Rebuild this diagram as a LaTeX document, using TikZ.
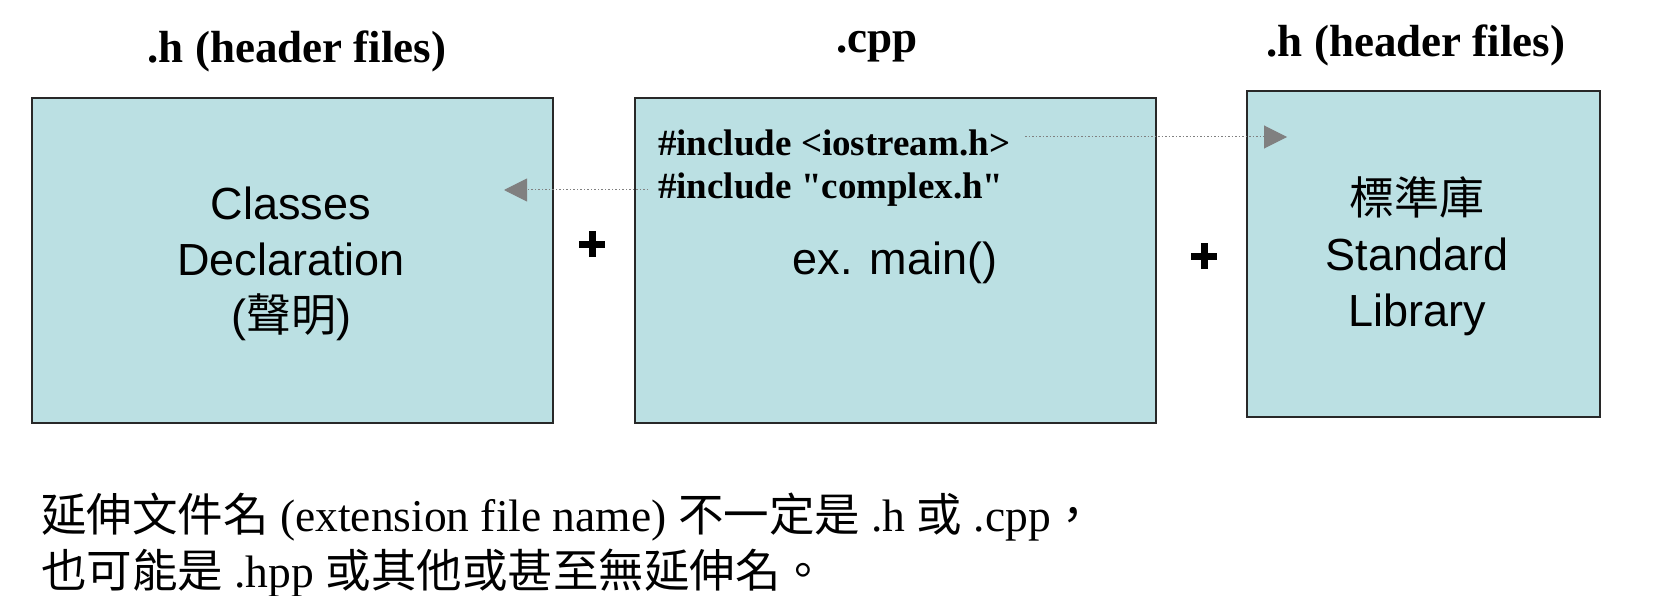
\documentclass[tikz,border=0pt]{standalone}
\usepackage{fontspec}
\setmainfont{Liberation Serif}
\newfontfamily\arialf{Liberation Sans}
\newfontfamily\cjkf{Noto Sans CJK TC}
\usetikzlibrary{arrows.meta}
\definecolor{boxfill}{RGB}{187,224,227}
\definecolor{boxdraw}{RGB}{40,40,40}
\definecolor{arrgray}{RGB}{128,128,128}
\begin{document}
\begin{tikzpicture}[x=1pt,y=-1pt,
  filebox/.style={draw=boxdraw, line width=1.5pt, fill=boxfill, inner sep=0pt},
  title/.style={font=\fontsize{45}{50}\selectfont\bfseries, inner sep=0pt},
  boxtext/.style={font=\arialf\fontsize{45}{56}\selectfont, align=center, inner sep=0pt},
  inc/.style={font=\fontsize{37}{40}\selectfont\bfseries, inner sep=0pt, anchor=west},
  dep/.style={draw=arrgray, line width=1pt, dash pattern=on 1.5pt off 2pt,
              -{Triangle[length=23pt,width=23pt,fill=arrgray]}},
  plusbar/.style={line width=7pt, black},
  note/.style={font=\fontsize{45.5}{56}\selectfont, anchor=west, inner sep=0pt}
]
\useasboundingbox (0,0) rectangle (1673,596);

% boxes
\node[filebox, minimum width=521pt, minimum height=325pt] (hdr) at (292.5,260.5) {};
\node[filebox, minimum width=521pt, minimum height=325pt] (cpp) at (895.5,260.5) {};
\node[filebox, minimum width=353pt, minimum height=326pt] (lib) at (1423.5,254) {};

% titles
\node[title] (t1) at (297,51) {.h (header files)};
\node[title] (t2) at (877,47) {.cpp};
\node[title] (t3) at (1416,45) {.h (header files)};

% box contents
\node[boxtext] (hdrtxt) at (291,264) {Classes\\Declaration\\({\cjkf 聲明})};
\node[inc] (inc1) at (658,143) {\#include <iostream.h>};
\node[inc] (inc2) at (658,190) {\#include \textquotedbl complex.h\textquotedbl};
\node[boxtext] (mainfn) at (895,263) {ex. main()};
\node[boxtext] (libtxt) at (1417,256) {{\cjkf 標準庫}\\Standard\\Library};

% dependency arrows
\coordinate (a1s) at (648,190);
\coordinate (a1e) at (504,190);
\coordinate (a2s) at (1025,137);
\coordinate (a2e) at (1287,137);
\draw[dep] (a1s) -- (a1e);
\draw[dep] (a2s) -- (a2e);

% plus signs
\coordinate (p1) at (592,244);
\coordinate (p2) at (1204,256);
\draw[plusbar] ([xshift=-13pt]p1) -- ([xshift=13pt]p1);
\draw[plusbar] ([yshift=-13pt]p1) -- ([yshift=13pt]p1);
\draw[plusbar] ([xshift=-13pt]p2) -- ([xshift=13pt]p2);
\draw[plusbar] ([yshift=-13pt]p2) -- ([yshift=13pt]p2);

% note
\node[note] (n1) at (41,517) {{\cjkf 延伸文件名} (extension file name) {\cjkf 不一定是} .h {\cjkf 或} .cpp{\cjkf ，}};
\node[note] (n2) at (41,573) {{\cjkf 也可能是} .hpp {\cjkf 或其他或甚至無延伸名。}};
\end{tikzpicture}
\end{document}
